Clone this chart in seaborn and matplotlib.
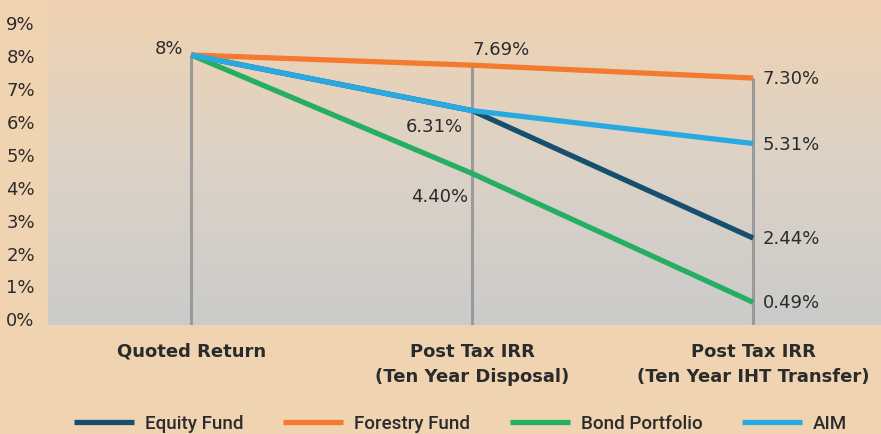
import numpy as np
import pandas as pd
import matplotlib
matplotlib.use("Agg")
import matplotlib.pyplot as plt
import seaborn as sns
from matplotlib.colors import LinearSegmentedColormap

# ---------------------------------------------------------------------------
# Data
# ---------------------------------------------------------------------------
STAGES = ["Quoted Return", "Post Tax IRR\n(Ten Year Disposal)",
          "Post Tax IRR\n(Ten Year IHT Transfer)"]
SERIES = ["Equity Fund", "Forestry Fund", "Bond Portfolio", "AIM"]
EQUITY   = [8.0, 6.31, 2.44]
FORESTRY = [8.0, 7.69, 7.30]
BOND     = [8.0, 4.40, 0.49]
AIM      = [8.0, 6.31, 5.31]
Y_TICKS  = list(range(0, 10))

COLORS = {
    "Equity Fund":    "#17506f",
    "Forestry Fund":  "#f47a2f",
    "Bond Portfolio": "#26ae62",
    "AIM":            "#29a9e1",
}
BG = "#f0d3b1"
TXT = "#2b2b2b"

# ---------------------------------------------------------------------------
# Long-form table for seaborn
# ---------------------------------------------------------------------------
rows = []
for name, vals in zip(SERIES, [EQUITY, FORESTRY, BOND, AIM]):
    for i, v in enumerate(vals):
        rows.append({"stage": i, "fund": name, "value": v})
df = pd.DataFrame(rows)

sns.set_theme(style="white")
plt.rcParams["font.family"] = ["DejaVu Sans"]

fig = plt.figure(figsize=(8.81, 4.35), dpi=100, facecolor=BG)
ax = fig.add_axes([48 / 881, 109 / 435, 1 - 48 / 881, 326 / 435])
ax.set_facecolor(BG)

XLIM = (-0.51, 2.455)
YLIM = (-0.2, 9.7)

# gradient background of the plot area: peach on top -> grey at bottom
cmap = LinearSegmentedColormap.from_list("bg", ["#cbcbcb", "#dcd2c6", BG])
grad = np.linspace(0, 1, 256).reshape(-1, 1)
ax.imshow(grad, extent=[XLIM[0], XLIM[1], YLIM[0], YLIM[1]], origin="lower",
          cmap=cmap, aspect="auto", zorder=0)

# vertical drop lines from the highest value down to the axis
tops = df.groupby("stage")["value"].max()
for i, top in tops.items():
    ax.plot([i, i], [YLIM[0], top], color="#9a9a9a", lw=2.2, zorder=1,
            solid_capstyle="butt")

sns.lineplot(data=df, x="stage", y="value", hue="fund", hue_order=SERIES,
             palette=COLORS, linewidth=3.8, ax=ax, legend=True, zorder=3,
             solid_capstyle="butt")

ax.set_xlim(*XLIM)
ax.set_ylim(*YLIM)
ax.set_xticks(range(len(STAGES)))
ax.set_xticklabels(STAGES, fontsize=13, fontweight="bold", color=TXT,
                   linespacing=1.5)
ax.tick_params(axis="x", length=0, pad=12)
ax.set_yticks(Y_TICKS)
ax.set_yticklabels([f"{t}%" for t in Y_TICKS], fontsize=13, color=TXT)
ax.tick_params(axis="y", length=0, pad=30)
for lab in ax.get_yticklabels():
    lab.set_ha("left")
ax.set_xlabel("")
ax.set_ylabel("")
for s in ax.spines.values():
    s.set_visible(False)

# value labels
def lab(x, y, text, dx, dy, ha):
    ax.annotate(text, (x, y), xytext=(dx, dy), textcoords="offset points",
                ha=ha, va="center", fontsize=13, color=TXT, zorder=5)

lab(0, EQUITY[0], "8%", -6, 5, "right")
lab(1, FORESTRY[1], f"{FORESTRY[1]:.2f}%", 0, 12, "left")
lab(1, EQUITY[1], f"{EQUITY[1]:.2f}%", -7, -11, "right")
lab(1, BOND[1], f"{BOND[1]:.2f}%", -3, -16, "right")
for vals in [FORESTRY, AIM, EQUITY, BOND]:
    lab(2, vals[2], f"{vals[2]:.2f}%", 7, 0, "left")

# legend at the bottom
handles, labels = ax.get_legend_handles_labels()
ax.get_legend().remove()
for h in handles:
    h.set_solid_capstyle("butt")
leg = fig.legend(handles, labels, loc="lower center", ncol=4,
                 bbox_to_anchor=(0.523, -0.035), frameon=False,
                 handlelength=3.2, handletextpad=0.6, columnspacing=2.1,
                 prop={"family": ["Roboto", "DejaVu Sans"],
                       "size": 13.5, "weight": "medium"})
for t in leg.get_texts():
    t.set_color(TXT)

fig.savefig("out.png", dpi=100, facecolor=BG)
